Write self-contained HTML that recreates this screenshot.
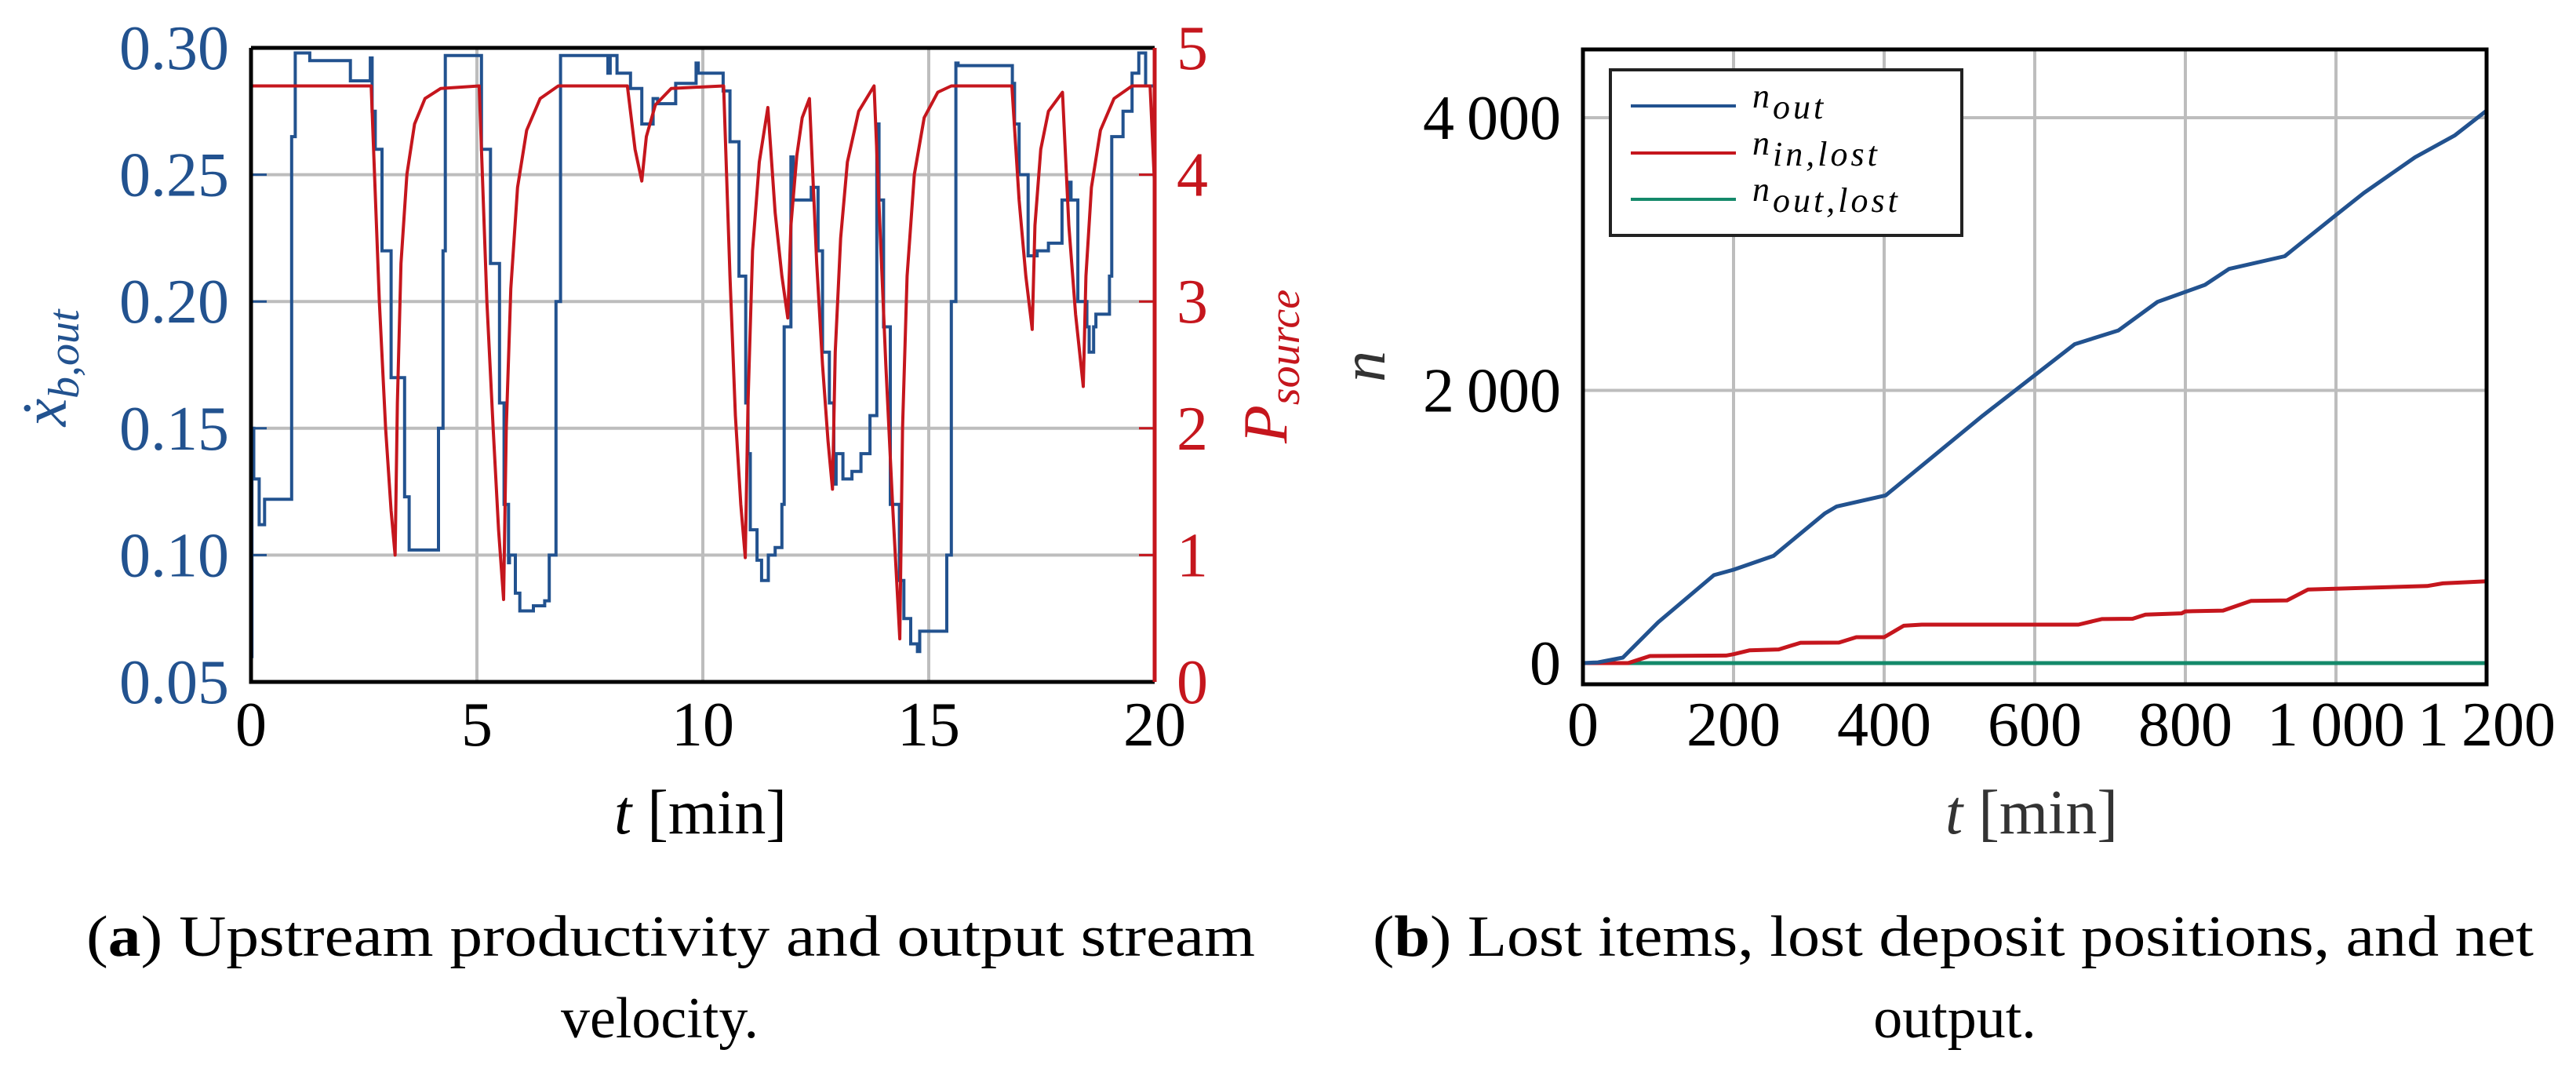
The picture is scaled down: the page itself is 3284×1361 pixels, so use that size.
<!DOCTYPE html>
<html><head><meta charset="utf-8"><style>
html,body{margin:0;padding:0;background:#fff;}
svg{display:block;font-family:"Liberation Serif",serif;}
</style></head><body>
<svg id="fig" width="3284" height="1361" viewBox="0 0 3284 1361" xmlns="http://www.w3.org/2000/svg">
<g id="chartA"></g>
<g id="chartB"></g>
<text x="855" y="1218" font-size="74" text-anchor="middle" textLength="1490" lengthAdjust="spacingAndGlyphs">(<tspan font-weight="bold">a</tspan>) Upstream productivity and output stream</text>
<text x="841" y="1322" font-size="74" text-anchor="middle">velocity.</text>
<text x="2490" y="1218" font-size="74" text-anchor="middle" textLength="1480" lengthAdjust="spacingAndGlyphs">(<tspan font-weight="bold">b</tspan>) Lost items, lost deposit positions, and net</text>
<text x="2492" y="1322" font-size="74" text-anchor="middle">output.</text>
</svg>
<script>
// ---- Chart A data ----
const aXTicks = [0, 5, 10, 15, 20];
const aLeftTicks = [0.05, 0.10, 0.15, 0.20, 0.25, 0.30];
const aLeftTickLabels = ["0.05", "0.10", "0.15", "0.20", "0.25", "0.30"];
const aRightTicks = [0, 1, 2, 3, 4, 5];
const pTime = [0,2.66,2.84,2.98,3.10,3.19,3.24,3.32,3.45,3.62,3.85,4.2,5.05,5.22,5.36,5.48,5.59,5.65,5.75,5.9,6.1,6.4,6.8,8.33,8.5,8.65,8.75,8.95,9.3,10.46,10.6,10.72,10.84,10.94,11.0,11.1,11.25,11.44,11.6,11.75,11.88,11.95,12.08,12.2,12.36,12.52,12.65,12.77,12.87,12.93,13.05,13.2,13.45,13.79,13.93,14.05,14.2,14.36,14.42,14.52,14.68,14.9,15.2,15.5,16.84,17.0,17.15,17.29,17.35,17.48,17.65,17.96,18.1,18.25,18.42,18.48,18.6,18.8,19.1,19.5,19.9,20.0];
const pValue = [4.7,4.7,3.0,2.0,1.35,1.0,2.2,3.3,4.0,4.4,4.6,4.68,4.7,3.0,2.0,1.2,0.65,2.0,3.1,3.9,4.35,4.6,4.7,4.7,4.2,3.95,4.3,4.55,4.68,4.7,3.2,2.1,1.4,0.98,2.2,3.4,4.1,4.53,3.7,3.2,2.87,3.6,4.15,4.45,4.6,3.3,2.5,1.9,1.52,2.6,3.5,4.1,4.5,4.7,3.5,2.5,1.4,0.34,2.0,3.2,4.0,4.45,4.65,4.7,4.7,3.8,3.2,2.78,3.6,4.2,4.5,4.65,3.6,2.9,2.33,3.2,3.9,4.35,4.6,4.7,4.7,3.9];
const vTime = [0,0.02,0.06,0.18,0.3,0.8,0.9,0.98,1.3,2.2,2.6,2.64,2.68,2.75,2.9,3.1,3.4,3.5,4.05,4.15,4.25,4.3,5.05,5.1,5.3,5.5,5.6,5.7,5.72,5.85,5.95,6.25,6.5,6.6,6.75,6.85,7.9,7.95,8.1,8.4,8.65,8.9,9.0,9.4,9.85,9.9,10.4,10.45,10.6,10.8,10.95,11.0,11.05,11.2,11.3,11.45,11.6,11.75,11.8,11.95,12.0,12.05,12.4,12.55,12.65,12.8,12.9,12.95,13.0,13.1,13.3,13.5,13.7,13.85,13.9,14.0,14.15,14.35,14.45,14.6,14.75,14.8,15.0,15.4,15.5,15.6,15.65,16.0,16.85,16.9,17.0,17.2,17.4,17.65,17.95,18.1,18.15,18.3,18.5,18.55,18.65,18.7,18.75,19.0,19.05,19.3,19.5,19.65,19.8,19.95,20.0];
const vValue = [0.06,0.15,0.13,0.112,0.122,0.122,0.265,0.298,0.295,0.287,0.287,0.296,0.275,0.26,0.22,0.17,0.123,0.102,0.102,0.15,0.22,0.297,0.297,0.26,0.215,0.16,0.12,0.097,0.1,0.085,0.078,0.08,0.082,0.1,0.2,0.297,0.29,0.297,0.29,0.284,0.27,0.28,0.278,0.286,0.294,0.29,0.29,0.283,0.263,0.21,0.16,0.14,0.11,0.098,0.09,0.1,0.103,0.12,0.19,0.257,0.24,0.24,0.245,0.22,0.18,0.16,0.128,0.14,0.14,0.13,0.133,0.14,0.155,0.27,0.24,0.19,0.12,0.09,0.075,0.065,0.062,0.07,0.07,0.1,0.2,0.294,0.293,0.293,0.286,0.27,0.25,0.218,0.22,0.223,0.24,0.247,0.24,0.2,0.19,0.18,0.19,0.195,0.195,0.21,0.265,0.275,0.29,0.298,0.285,0.285];

// ---- Chart B data ----
const bXTicks = [0, 200, 400, 600, 800, 1000, 1200];
const bXTickLabels = ["0", "200", "400", "600", "800", "1\u2009000", "1\u2009200"];
const bYTicks = [0, 2000, 4000];
const bYTickLabels = ["0", "2\u2009000", "4\u2009000"];
const outTime = [0,20,53,100,174,200,253,321,337,402,531,653,711,763,826,858,932,1000,1037,1105,1158,1200];
const outValue = [0,5,40,300,645,685,786,1097,1149,1230,1815,2339,2440,2649,2774,2891,2984,3286,3448,3710,3871,4052];
const inLostTime = [0,60,89,190,200,221,260,289,340,363,400,426,450,658,689,730,747,795,800,850,887,935,963,1030,1121,1142,1200];
const inLostValue = [0,0,52,55,65,93,100,149,150,190,190,274,282,282,323,325,355,365,379,385,456,460,540,550,565,585,600];
const outLostTime = [0,1200];
const outLostValue = [0,0];

const NS = "http://www.w3.org/2000/svg";
function mk(parent, tag, attrs, text){
  const e = document.createElementNS(NS, tag);
  for (const k in attrs) e.setAttribute(k, attrs[k]);
  if (text !== undefined) e.textContent = text;
  parent.appendChild(e);
  return e;
}
const BLUE = "#22528f", RED = "#c5161d", GREEN = "#14896a", GRID = "#bdbdbd";

// ===== Chart A =====
const A = document.getElementById("chartA");
const aL = 320, aR = 1472, aT = 61, aB = 869;
const ax = t => aL + (t - 0) / 20 * (aR - aL);
const ayL = v => aB - (v - 0.05) / 0.25 * (aB - aT);
const ayR = p => aB - p / 5 * (aB - aT);

aXTicks.forEach(t => {
  if (t > 0 && t < 20) {
    const g = mk(A, "line", {x1: ax(t), x2: ax(t), y1: aT, y2: aB, stroke: GRID, "stroke-width": 4});
    
    
  }
  const lb = mk(A, "text", {x: ax(t), y: 950, "font-size": 80, "text-anchor": "middle"}, String(t));
  
  
});
aLeftTicks.forEach((v, i) => {
  if (i > 0 && i < aLeftTicks.length - 1) {
    const g = mk(A, "line", {x1: aL, x2: aR, y1: ayL(v), y2: ayL(v), stroke: GRID, "stroke-width": 4});
    
    
    const tk = mk(A, "line", {x1: aL, x2: aL + 20, y1: ayL(v), y2: ayL(v), stroke: BLUE, "stroke-width": 3});
    
    
  }
  const lb = mk(A, "text", {x: 292, y: ayL(v) + 27, "font-size": 80, "text-anchor": "end", fill: BLUE}, aLeftTickLabels[i]);
  
  
});
aRightTicks.forEach(p => {
  if (p > 0 && p < 5) {
    const tk = mk(A, "line", {x1: aR - 20, x2: aR, y1: ayR(p), y2: ayR(p), stroke: RED, "stroke-width": 3});
    
    
  }
  const lb = mk(A, "text", {x: 1520, y: ayR(p) + 27, "font-size": 80, "text-anchor": "middle", fill: RED}, String(p));
  
  
});
let d = "M" + ax(vTime[0]) + "," + ayL(vValue[0]);
for (let i = 1; i < vTime.length; i++) {
  d += " H" + ax(vTime[i]).toFixed(1) + " V" + ayL(vValue[i]).toFixed(1);
}
const vPath = mk(A, "path", {d: d, fill: "none", stroke: BLUE, "stroke-width": 4});


let d2 = "";
pTime.forEach((t, i) => { d2 += (i ? " L" : "M") + ax(t).toFixed(1) + "," + ayR(pValue[i]).toFixed(1); });
const pPath = mk(A, "path", {d: d2, fill: "none", stroke: RED, "stroke-width": 4, "stroke-linejoin": "round"});


const fa1 = mk(A, "path", {d: `M${aL},${aT} H${aR} M${aL},${aT} V${aB} H${aR}`, fill: "none", stroke: "#000", "stroke-width": 5});


const fa2 = mk(A, "line", {x1: aR, x2: aR, y1: aT, y2: aB, stroke: RED, "stroke-width": 5});


const at1 = mk(A, "text", {x: 893, y: 1062, "font-size": 80, "text-anchor": "middle"});
at1.innerHTML = '<tspan font-style="italic">t</tspan> [min]';


const at2 = mk(A, "text", {x: 0, y: 0, "font-size": 80, "text-anchor": "middle", fill: BLUE, "font-style": "italic", transform: "translate(84,469) rotate(-90)"});
at2.innerHTML = 'x\u0307<tspan font-size="56" dy="16">b,out</tspan>';


const at3 = mk(A, "text", {x: 0, y: 0, "font-size": 80, "text-anchor": "middle", fill: RED, "font-style": "italic", transform: "translate(1640,467) rotate(-90)"});
at3.innerHTML = 'P<tspan font-size="56" dy="16">source</tspan>';



// ===== Chart B =====
const B = document.getElementById("chartB");
const bL = 2018, bR = 3170, bT = 63, bB = 872;
const bx = t => bL + t / 1200 * (bR - bL);
const by = n => 845 - n * (695 / 4000);

bXTicks.forEach((t, i) => {
  if (t > 0 && t < 1200) {
    const g = mk(B, "line", {x1: bx(t), x2: bx(t), y1: bT, y2: bB, stroke: GRID, "stroke-width": 4});
    
    
  }
  const lb = mk(B, "text", {x: bx(t), y: 950, "font-size": 80, "text-anchor": "middle"}, bXTickLabels[i]);
  
  
});
bYTicks.forEach((n, i) => {
  if (n > 0) {
    const g = mk(B, "line", {x1: bL, x2: bR, y1: by(n), y2: by(n), stroke: GRID, "stroke-width": 4});
    
    
  }
  const lb = mk(B, "text", {x: 1990, y: by(n) + 27, "font-size": 80, "text-anchor": "end"}, bYTickLabels[i]);
  
  
});
function series(times, vals, color, name){
  let s = "";
  times.forEach((t, i) => { s += (i ? " L" : "M") + bx(t).toFixed(1) + "," + by(vals[i]).toFixed(1); });
  const p = mk(B, "path", {d: s, fill: "none", stroke: color, "stroke-width": 5, "stroke-linejoin": "round"});
  
  
}
series(outLostTime, outLostValue, GREEN, 'n-out-lost-series');
series(inLostTime, inLostValue, RED, 'n-in-lost-series');
series(outTime, outValue, BLUE, 'n-out-series');
const fb = mk(B, "rect", {x: bL, y: bT, width: bR - bL, height: bB - bT, fill: "none", stroke: "#000", "stroke-width": 5});


const lg = mk(B, "g", {});


mk(lg, "rect", {x: 2053, y: 89, width: 448, height: 211, fill: "#fff", stroke: "#222", "stroke-width": 4});
const legNames = ["out", "in,lost", "out,lost"];
const legColors = [BLUE, RED, GREEN];
const legY = [135, 195, 254];
legNames.forEach((nm, i) => {
  const l = mk(lg, "line", {x1: 2079, x2: 2213, y1: legY[i], y2: legY[i], stroke: legColors[i], "stroke-width": 4});
  
  
  const tx = mk(lg, "text", {x: 2234, y: legY[i] + 2, "font-size": 44, "font-style": "italic", "letter-spacing": 4});
  tx.innerHTML = 'n<tspan dy="14">' + nm + '</tspan>';
  
  
});
const bt1 = mk(B, "text", {x: 2590, y: 1062, "font-size": 80, "text-anchor": "middle", fill: "#333"});
bt1.innerHTML = '<tspan font-style="italic">t</tspan> [min]';


const bt2 = mk(B, "text", {x: 0, y: 0, "font-size": 80, "text-anchor": "middle", "font-style": "italic", fill: "#333", transform: "translate(1765,467) rotate(-90)"}, "n");


</script>
</body></html>
